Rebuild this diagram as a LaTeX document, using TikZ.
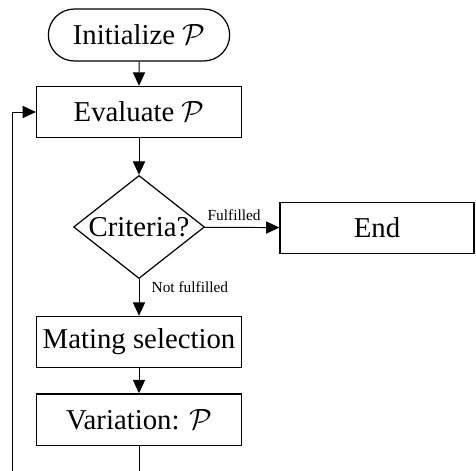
\documentclass[tikz,border=0pt]{standalone}
\usepackage{fontspec}
\setmainfont{Liberation Serif}
\usetikzlibrary{positioning,arrows.meta,shapes.geometric,shapes.misc}
\begin{document}
\begin{tikzpicture}[
  x=0.41pt, y=-0.41pt,
  block/.style={draw, line width=0.5pt, minimum width=84pt, minimum height=21pt,
    inner sep=2pt, font=\fontsize{11.8}{14}\selectfont},
  terminal/.style={draw, rounded rectangle, line width=0.5pt, minimum width=73.5pt,
    minimum height=21.3pt, font=\fontsize{11.8}{14}\selectfont},
  decision/.style={draw, diamond, shape aspect=1.27, inner sep=0.5pt, line width=0.5pt,
    minimum width=52.5pt, minimum height=41.4pt, font=\fontsize{11.8}{14}\selectfont},
  branch/.style={font=\fontsize{6.3}{7}\selectfont, inner sep=1pt},
  >={Triangle[length=5.5pt,width=5pt]}, line width=0.4pt
]
  \useasboundingbox (0,0) rectangle (476,470);
  \clip (0,0) rectangle (476,470);

  \node[terminal, minimum width=81pt] (init) at (139,35) {Initialize $\mathcal{P}$};
  \node[block] (eval) at (139,112) {Evaluate $\mathcal{P}$};
  \node[decision] (crit) at (139,227) {Criteria?};
  \node[block, minimum width=79.5pt] (end) at (377,228) {End};
  \node[block] (mate) at (139,342) {Mating selection};
  \node[block] (var) at (139,419.5) {Variation: $\mathcal{P}$};
  \coordinate (bend) at (12,495);

  \draw[->] (init) -- (eval);
  \draw[->] (eval) -- (crit);
  \draw[->] (crit) -- node[branch, pos=0, anchor=south west, yshift=1.5pt] {Fulfilled} (end);
  \draw[->] (crit) -- node[branch, pos=0, anchor=north west, xshift=4pt] {Not fulfilled} (mate);
  \draw[->] (mate) -- (var);
  \draw[->] (var) -- (var |- bend) -- (bend) |- (eval);
\end{tikzpicture}
\end{document}
